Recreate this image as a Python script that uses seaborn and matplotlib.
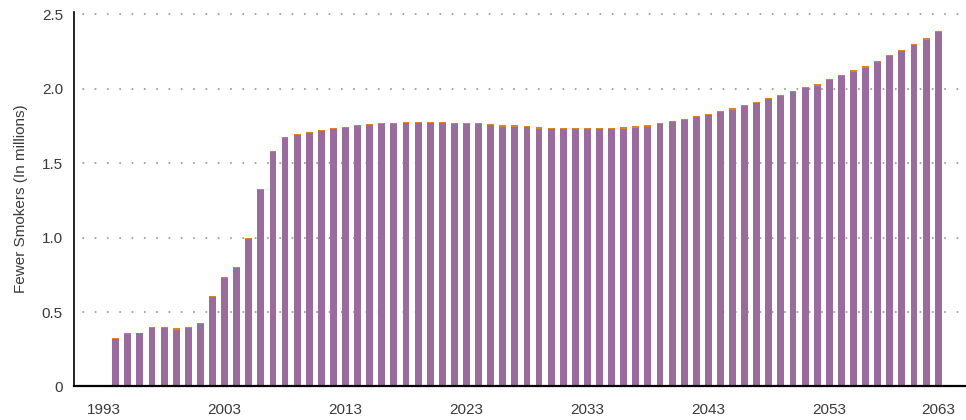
import matplotlib
matplotlib.use("Agg")
import matplotlib.pyplot as plt
import seaborn as sns
import pandas as pd

years = list(range(1993, 2063))

purple_values = [
    0.000, 0.321, 0.355, 0.360, 0.393, 0.394, 0.382, 0.393, 0.420, 0.598,
    0.729, 0.797, 0.988, 1.319, 1.576, 1.671, 1.687, 1.699, 1.713, 1.728,
    1.733, 1.746, 1.755, 1.760, 1.760, 1.769, 1.769, 1.769, 1.769, 1.761,
    1.761, 1.761, 1.756, 1.745, 1.745, 1.740, 1.732, 1.729, 1.729, 1.729,
    1.729, 1.729, 1.729, 1.732, 1.739, 1.744, 1.762, 1.775, 1.789, 1.807,
    1.822, 1.842, 1.860, 1.885, 1.903, 1.930, 1.950, 1.975, 2.003, 2.020,
    2.057, 2.084, 2.114, 2.142, 2.178, 2.216, 2.250, 2.290, 2.328, 2.381,
]

orange_values = [
    0.006, 0.005, 0.003, 0.002, 0.008, 0.007, 0.012, 0.007, 0.007, 0.012,
    0.008, 0.007, 0.012, 0.008, 0.007, 0.007, 0.010, 0.010, 0.010, 0.010,
    0.012, 0.012, 0.010, 0.012, 0.012, 0.008, 0.008, 0.008, 0.008, 0.010,
    0.010, 0.010, 0.008, 0.012, 0.012, 0.010, 0.012, 0.008, 0.008, 0.008,
    0.008, 0.008, 0.008, 0.012, 0.010, 0.012, 0.008, 0.008, 0.008, 0.010,
    0.010, 0.008, 0.010, 0.008, 0.010, 0.008, 0.008, 0.010, 0.008, 0.012,
    0.008, 0.008, 0.012, 0.010, 0.008, 0.010, 0.010, 0.010, 0.010, 0.008,
]

tick_years = [1993, 2003, 2013, 2023, 2033, 2043, 2053, 2063]
y_ticks = [0, 0.5, 1.0, 1.5, 2.0, 2.5]
y_tick_labels = ["0", "0.5", "1.0", "1.5", "2.0", "2.5"]

PURPLE = "#9a6b9d"
ORANGE = "#e5801c"
TEXT = "#3a3a3a"

df = pd.DataFrame({
    "year": [str(y) for y in years],
    "purple": purple_values,
    "total": [p + o for p, o in zip(purple_values, orange_values)],
})

sns.set_style("white")
plt.rcParams["font.family"] = ["Liberation Sans", "DejaVu Sans"]

fig = plt.figure(figsize=(9.66, 4.2), dpi=100)
ax = fig.add_axes([0.0766, 0.0798, 0.9234, 0.8924])

sns.barplot(data=df, x="year", y="total", color=ORANGE, saturation=1,
            width=0.57, linewidth=0, ax=ax, zorder=2)
sns.barplot(data=df, x="year", y="purple", color=PURPLE, saturation=1,
            width=0.57, linewidth=0, ax=ax, zorder=3)

n = len(years)
ax.set_xlim(-2.45, 71.3)
ax.set_ylim(0, 2.517)

tick_pos = [min(y - years[0], n - 1) for y in tick_years]
ax.set_xticks(tick_pos)
ax.set_xticklabels([str(y) for y in tick_years])
ax.set_yticks(y_ticks)
ax.set_yticklabels(y_tick_labels)

ax.tick_params(axis="both", length=0, labelsize=11, labelcolor=TEXT)
ax.tick_params(axis="x", pad=12)
ax.tick_params(axis="y", pad=8)

ax.set_xlabel("")
ax.set_ylabel("Fewer Smokers (In millions)", fontsize=11, color=TEXT, labelpad=10)

ax.set_axisbelow(True)
ax.yaxis.grid(True, color="#9e9e9e", linewidth=1.5, linestyle=(1.5, (0.01, 5.9)))
ax.xaxis.grid(False)
for gl in ax.get_ygridlines():
    gl.set_dash_capstyle("round")
    gl.set_zorder(0)

for side in ["top", "right"]:
    ax.spines[side].set_visible(False)
ax.spines["left"].set_color("black")
ax.spines["left"].set_linewidth(1.2)
ax.spines["bottom"].set_color("black")
ax.spines["bottom"].set_linewidth(1.6)
ax.spines["bottom"].set_zorder(5)

fig.savefig("out.png", dpi=100)
